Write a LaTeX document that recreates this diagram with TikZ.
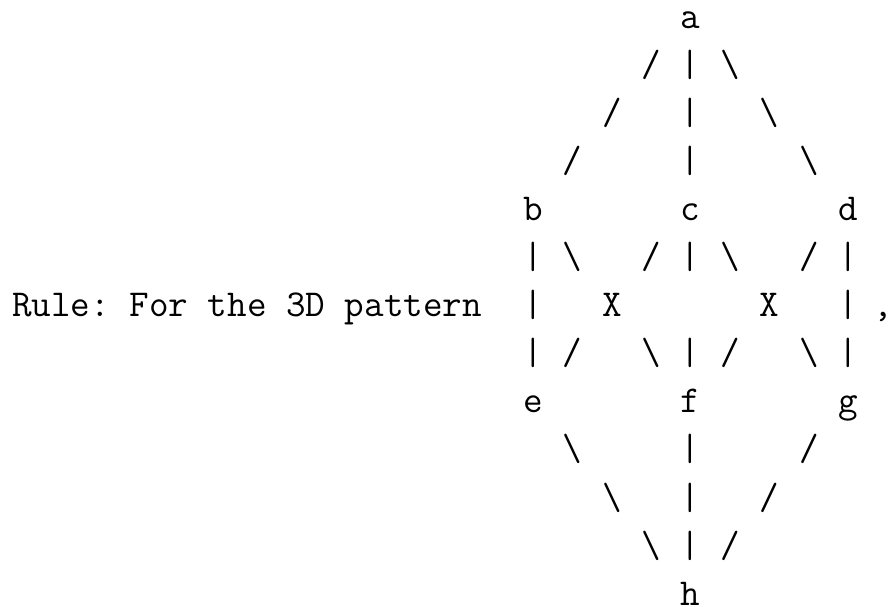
\documentclass[tikz,border=0pt]{standalone}
\usepackage{fontspec}
\setmonofont{Latin Modern Mono}
\newcommand\gl[4]{\node[g] (#1) at ({533+19.7*#2},{28+48.1*#3}) {#4};}
\newcommand\bs{\textbackslash}
\begin{document}
\begin{tikzpicture}[x=1pt,y=-1pt,
  g/.style={font=\fontsize{38}{38}\ttfamily, inner sep=0pt, anchor=base}]
\useasboundingbox (0,0) rectangle (893,606);
\node[g, anchor=base west] (rule) at (12,316) {Rule: For the 3D pattern};
% row 0
\gl{a}{8}{0}{a}
% row 1
\gl{r1a}{6}{1}{/}  \gl{r1b}{8}{1}{|}  \gl{r1c}{10}{1}{\bs}
% row 2
\gl{r2a}{4}{2}{/}  \gl{r2b}{8}{2}{|}  \gl{r2c}{12}{2}{\bs}
% row 3
\gl{r3a}{2}{3}{/}  \gl{r3b}{8}{3}{|}  \gl{r3c}{14}{3}{\bs}
% row 4
\gl{b}{0}{4}{b}  \gl{c}{8}{4}{c}  \gl{d}{16}{4}{d}
% row 5
\gl{r5a}{0}{5}{|} \gl{r5b}{2}{5}{\bs} \gl{r5c}{6}{5}{/} \gl{r5d}{8}{5}{|}
\gl{r5e}{10}{5}{\bs} \gl{r5f}{14}{5}{/} \gl{r5g}{16}{5}{|}
% row 6
\gl{r6a}{0}{6}{|} \gl{x1}{4}{6}{X} \gl{x2}{12}{6}{X} \gl{r6d}{16}{6}{|}
\node[g] (comma) at (883,{28+48.1*6}) {,};
% row 7
\gl{r7a}{0}{7}{|} \gl{r7b}{2}{7}{/} \gl{r7c}{6}{7}{\bs} \gl{r7d}{8}{7}{|}
\gl{r7e}{10}{7}{/} \gl{r7f}{14}{7}{\bs} \gl{r7g}{16}{7}{|}
% row 8
\gl{e}{0}{8}{e}  \gl{f}{8}{8}{f}  \gl{gg}{16}{8}{g}
% row 9
\gl{r9a}{2}{9}{\bs}  \gl{r9b}{8}{9}{|}  \gl{r9c}{14}{9}{/}
% row 10
\gl{r10a}{4}{10}{\bs}  \gl{r10b}{8}{10}{|}  \gl{r10c}{12}{10}{/}
% row 11
\gl{r11a}{6}{11}{\bs}  \gl{r11b}{8}{11}{|}  \gl{r11c}{10}{11}{/}
% row 12
\gl{h}{8}{12}{h}
\end{tikzpicture}
\end{document}
